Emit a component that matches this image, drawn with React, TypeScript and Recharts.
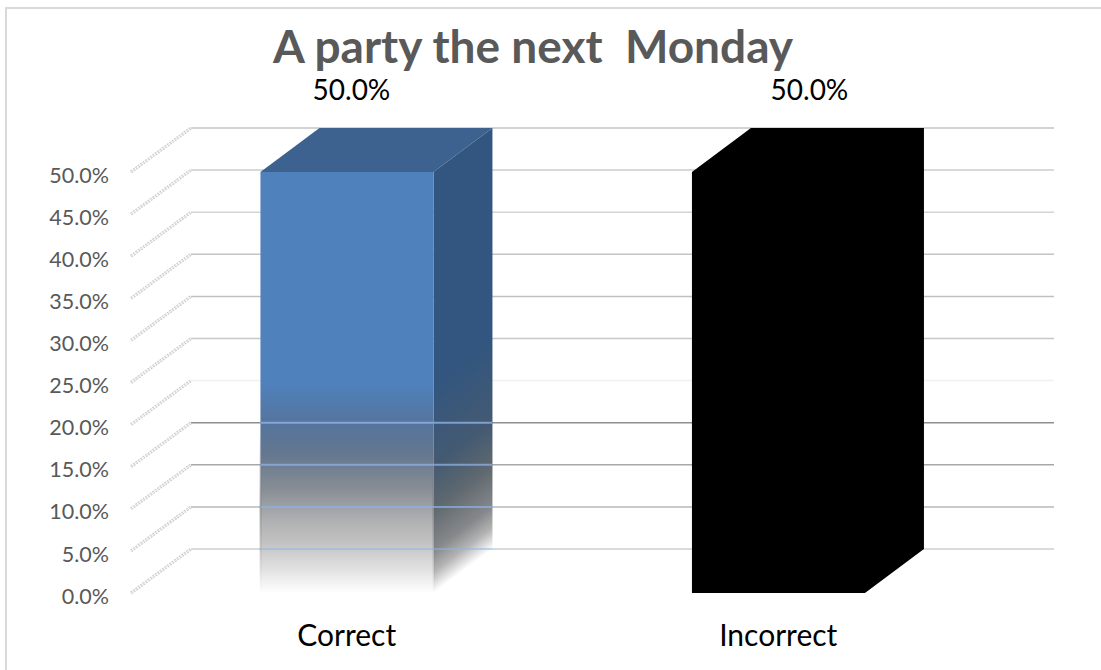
import { Bar, BarChart, CartesianGrid, LabelList, XAxis, YAxis } from "recharts";

const categories = ["Correct", "Incorrect"];
const percentCorrect = [50, 50];
const valueTicks = [0, 5, 10, 15, 20, 25, 30, 35, 40, 45, 50];

// 3D look: how far the back wall sits from the front plane
const DEPTH_X = 59;
const DEPTH_Y = 44;

// the picture's gridlines are not all the same grey, index follows valueTicks
const gridColors = ["#cfcfcf", "#b8b8b8", "#a8a8a8", "#8f8f8f", "#f0f0f0", "#c8c8c8", "#c0c0c0", "#c4c4c4", "#d4d4d4", "#cccccc", "#c4c4c4"];
const overlayOpacity = [0.55, 0.7, 0.75, 0.8];
const labelShift = [4.5, 31];
const TOP_VALUE = 50;

const chartData = categories.map((category, i) => ({
  category,
  value: percentCorrect[i],
}));

function GridLine(props: any) {
  const { x1, x2, y1, index } = props;
  const back = y1 - DEPTH_Y;
  return (
    <g key={`grid-${index}`}>
      <line x1={x1} y1={y1} x2={x1 + DEPTH_X + 1} y2={back} stroke="#cccccc" strokeWidth={3} strokeDasharray="2 1" />
      <line x1={x1} y1={y1} x2={x1 + DEPTH_X + 1} y2={back} stroke="#ffffff" strokeOpacity={0.7} strokeWidth={1} />
      <line
        x1={x1 + DEPTH_X + 1}
        y1={back}
        x2={x2 + DEPTH_X + 1}
        y2={back}
        stroke={gridColors[index] ?? "#c4c4c4"}
        strokeWidth={1.5}
      />
    </g>
  );
}

function BoxBar(props: any) {
  const { x, y, width, height, index } = props;
  const right = x + width;
  const bottom = y + height;

  if (index === 1) {
    const outline = `${x},${y} ${x + DEPTH_X},${y - DEPTH_Y} ${right + DEPTH_X},${y - DEPTH_Y} ${right + DEPTH_X},${bottom - DEPTH_Y} ${right},${bottom} ${x},${bottom}`;
    return <polygon points={outline} fill="#000000" />;
  }

  const top = `${x},${y} ${x + DEPTH_X},${y - DEPTH_Y} ${right + DEPTH_X},${y - DEPTH_Y} ${right},${y}`;
  const side = `${right},${y} ${right + DEPTH_X},${y - DEPTH_Y} ${right + DEPTH_X},${bottom - DEPTH_Y} ${right},${bottom}`;

  // side gradient runs across the depth direction so it fades like the floor edge
  const depthSq = DEPTH_X * DEPTH_X + DEPTH_Y * DEPTH_Y;
  const sideDx = (height * DEPTH_X * DEPTH_Y) / depthSq;
  const sideDy = (height * DEPTH_X * DEPTH_X) / depthSq;

  return (
    <g>
      <defs>
        <linearGradient id="frontFade" x1="0" y1="0" x2="0" y2="1">
          <stop offset="0.5" stopColor="#4f81bd" />
          <stop offset="0.6" stopColor="#56749c" />
          <stop offset="0.67" stopColor="#64778f" />
          <stop offset="0.75" stopColor="#868c94" />
          <stop offset="0.83" stopColor="#b0b1b3" />
          <stop offset="0.88" stopColor="#c2c2c2" />
          <stop offset="0.945" stopColor="#e2e2e2" />
          <stop offset="1" stopColor="#ffffff" />
        </linearGradient>
        <linearGradient id="sideFade" gradientUnits="userSpaceOnUse" x1={right} y1={y} x2={right + sideDx} y2={y + sideDy}>
          <stop offset="0.5" stopColor="#32567f" />
          <stop offset="0.7" stopColor="#445a72" />
          <stop offset="0.8" stopColor="#5e686f" />
          <stop offset="0.9" stopColor="#86888b" />
          <stop offset="0.95" stopColor="#b4b4b4" />
          <stop offset="1" stopColor="#ffffff" />
        </linearGradient>
        <linearGradient id="edgeFade" gradientUnits="userSpaceOnUse" x1={x} y1={y} x2={x} y2={bottom}>
          <stop offset="0.6" stopColor="#6a6a6a" stopOpacity={0} />
          <stop offset="0.8" stopColor="#6a6a6a" stopOpacity={0.45} />
          <stop offset="1" stopColor="#6a6a6a" stopOpacity={0} />
        </linearGradient>
      </defs>
      <polygon points={top} fill="#3d6290" />
      <polygon points={side} fill="url(#sideFade)" />
      <rect x={x} y={y} width={width} height={height} fill="url(#frontFade)" />
      <line x1={x} y1={y} x2={x} y2={bottom} stroke="url(#edgeFade)" strokeWidth={2} />
      <line x1={right} y1={y} x2={right} y2={bottom} stroke="url(#edgeFade)" strokeWidth={2} />
      {valueTicks
        .filter((tick) => tick <= 15)
        .map((tick, i) => {
          const lineY = bottom - (height * tick) / TOP_VALUE - DEPTH_Y;
          return (
            <line
              key={tick}
              x1={x}
              y1={lineY}
              x2={right + DEPTH_X}
              y2={lineY}
              stroke="#8fb2e6"
              strokeOpacity={overlayOpacity[i]}
              strokeWidth={2}
            />
          );
        })}
    </g>
  );
}

function BarValueLabel(props: any) {
  const { x, y, width, index, value } = props;
  return (
    <text
      x={x + width / 2 + labelShift[index]}
      y={y - 72}
      textAnchor="middle"
      fontFamily="Lato"
      fontSize={28}
      fill="#000000"
    >
      {`${Number(value).toFixed(1)}%`}
    </text>
  );
}

export default function App() {
  return (
    <div
      style={{
        position: "absolute",
        left: 0,
        top: 0,
        width: 1101,
        height: 670,
        background: "#ffffff",
      }}
    >
      <div
        style={{
          position: "absolute",
          left: 5,
          top: 7,
          width: 1094,
          height: 661,
          borderLeft: "2px solid #d9d9d9",
          borderTop: "2px solid #d9d9d9",
        }}
      />
      <BarChart
        width={1101}
        height={670}
        data={chartData}
        barCategoryGap="30%"
        margin={{ top: 172, right: 107, bottom: 47, left: 40 }}
        style={{ position: "absolute", left: 0, top: 0 }}
      >
        <text x={533} y={63} textAnchor="middle" fontFamily="Lato" fontWeight={700} fontSize={46} fill="#595959" xmlSpace="preserve">
          A party the next  Monday
        </text>
        <CartesianGrid vertical={false} horizontal={GridLine} syncWithTicks />
        <XAxis
          dataKey="category"
          axisLine={false}
          tickLine={false}
          tickMargin={26}
          tick={{ fill: "#000000", fontSize: 30, fontFamily: "Lato" }}
        />
        <YAxis
          type="number"
          width={91}
          domain={[0, TOP_VALUE]}
          ticks={valueTicks}
          axisLine={false}
          tickLine={false}
          tickMargin={16}
          tickFormatter={(value) => `${Number(value).toFixed(1)}%`}
          tick={{ fill: "#595959", fontSize: 21.5, fontFamily: "Lato", dy: 3 }}
        />
        <Bar dataKey="value" shape={BoxBar} isAnimationActive={false}>
          <LabelList dataKey="value" content={BarValueLabel} />
        </Bar>
      </BarChart>
    </div>
  );
}
